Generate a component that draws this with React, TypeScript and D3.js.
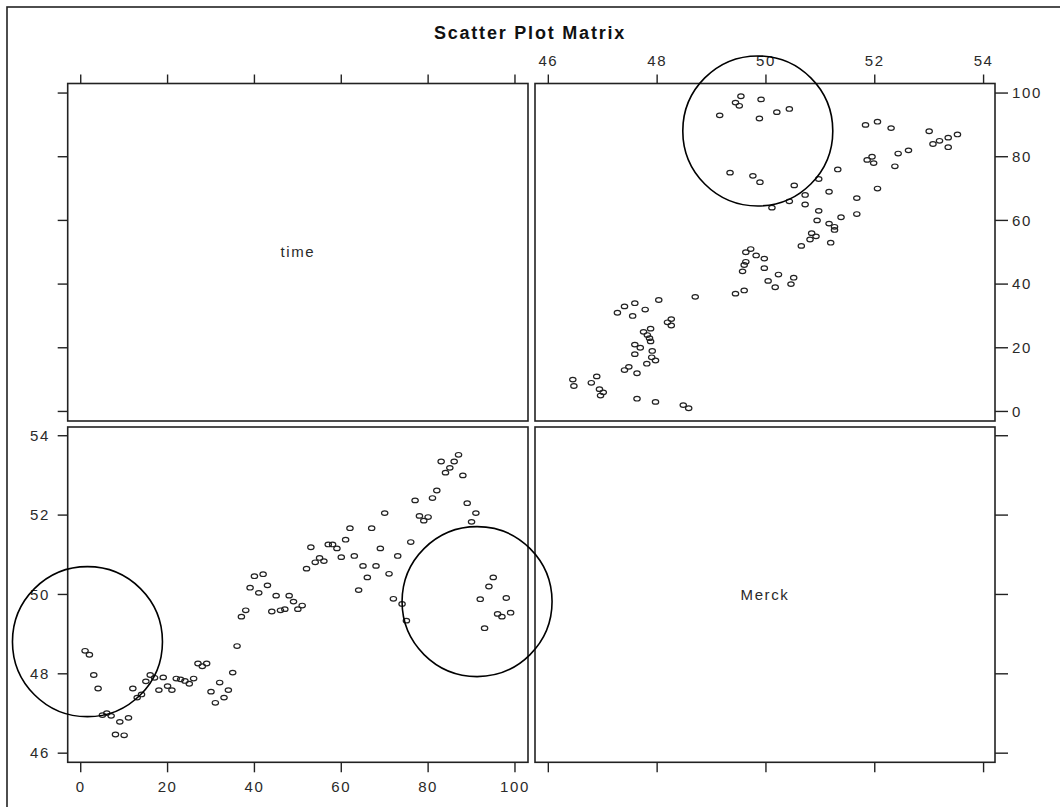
import React from 'react';
import * as d3 from 'd3';

const TITLE = 'Scatter Plot Matrix';
const VAR_NAMES = ['time', 'Merck'];

const TIME = [
  1, 2, 3, 4, 5, 6, 7, 8, 9, 10, 11, 12, 13, 14, 15, 16, 17, 18, 19, 20,
  21, 22, 23, 24, 25, 26, 27, 28, 29, 30, 31, 32, 33, 34, 35, 36, 37, 38, 39, 40,
  41, 42, 43, 44, 45, 46, 47, 48, 49, 50, 51, 52, 53, 54, 55, 56, 57, 58, 59, 60,
  61, 62, 63, 64, 65, 66, 67, 68, 69, 70, 71, 72, 73, 74, 75, 76, 77, 78, 79, 80,
  81, 82, 83, 84, 85, 86, 87, 88, 89, 90, 91, 92, 93, 94, 95, 96, 97, 98, 99,
];

const MERCK = [
  48.58, 48.48, 47.97, 47.63, 46.96, 47.01, 46.94, 46.47, 46.79, 46.45,
  46.89, 47.63, 47.40, 47.48, 47.81, 47.97, 47.90, 47.59, 47.91, 47.69,
  47.59, 47.88, 47.86, 47.82, 47.75, 47.88, 48.26, 48.19, 48.26, 47.55,
  47.27, 47.78, 47.40, 47.59, 48.03, 48.70, 49.44, 49.60, 50.17, 50.46,
  50.04, 50.51, 50.23, 49.57, 49.97, 49.60, 49.63, 49.97, 49.82, 49.63,
  49.72, 50.65, 51.19, 50.81, 50.92, 50.84, 51.26, 51.26, 51.16, 50.94,
  51.38, 51.67, 50.97, 50.11, 50.72, 50.43, 51.67, 50.72, 51.16, 52.05,
  50.52, 49.89, 50.97, 49.76, 49.34, 51.32, 52.37, 51.98, 51.86, 51.95,
  52.43, 52.62, 53.35, 53.07, 53.19, 53.35, 53.52, 53.00, 52.30, 51.83,
  52.05, 49.88, 49.15, 50.20, 50.43, 49.51, 49.44, 49.91, 49.54,
];

const TIME_TICKS = [0, 20, 40, 60, 80, 100];
const MERCK_TICKS = [46, 48, 50, 52, 54];

// highlight circles: [panel, time value, merck value]
const HIGHLIGHTS = [
  { panel: 'tr', time: 88.1, merck: 49.85 },
  { panel: 'bl', time: 1.55, merck: 48.81 },
  { panel: 'bl', time: 91.27, merck: 49.82 },
];

const W = 1060;
const H = 807;
const COL_L: [number, number] = [67.7, 528];
const COL_R: [number, number] = [535, 995];
const ROW_T: [number, number] = [83.5, 421];
const ROW_B: [number, number] = [427, 762.3];

const FONT = '"Liberation Sans", Arial, Helvetica, sans-serif';
const INK = '#222';

export default function App() {
  const timeX = d3.scaleLinear().domain([-3, 103]).range(COL_L);
  const timeY = d3.scaleLinear().domain([-3, 103]).range([ROW_T[1], ROW_T[0]]);
  const merckX = d3.scaleLinear().domain([45.755, 54.21]).range(COL_R);
  const merckY = d3.scaleLinear().domain([45.77, 54.22]).range([ROW_B[1], ROW_B[0]]);

  const pts = TIME.map((t, i) => ({ t, m: MERCK[i] }));

  const panel = (x: [number, number], y: [number, number], key: string) => (
    <rect key={key} x={x[0]} y={y[0]} width={x[1] - x[0]} height={y[1] - y[0]}
      fill="none" stroke={INK} strokeWidth={1.6} />
  );

  const tickText = {
    fontFamily: FONT,
    fontSize: 15,
    fill: '#2a2a2a',
    letterSpacing: 1.6,
  } as React.CSSProperties;

  const marker = (cx: number, cy: number, key: string) => (
    <ellipse key={key} cx={cx} cy={cy} rx={3.2} ry={2.3} fill="none" stroke={INK} strokeWidth={1.2} />
  );

  return (
    <svg width={W} height={H} style={{ position: 'absolute', left: 0, top: 0, background: '#fff' }}>
      <rect x={0} y={0} width={W} height={H} fill="#fff" />
      {/* outer frame */}
      <rect x={7} y={7} width={1200} height={1000} fill="none" stroke={INK} strokeWidth={1.6} />
      <text x={530} y={39} textAnchor="middle" fontFamily={FONT} fontWeight="bold" fontSize={18}
        letterSpacing={1.8} fill="#111">{TITLE}</text>

      {panel(COL_L, ROW_T, 'p1')}
      {panel(COL_R, ROW_T, 'p2')}
      {panel(COL_L, ROW_B, 'p3')}
      {panel(COL_R, ROW_B, 'p4')}

      {/* top ticks: time over left column (unlabeled), merck over right column (labeled) */}
      {TIME_TICKS.map((v) => (
        <line key={'tt' + v} x1={timeX(v)} x2={timeX(v)} y1={ROW_T[0]} y2={ROW_T[0] - 9} stroke={INK} strokeWidth={1.4} />
      ))}
      {MERCK_TICKS.map((v) => (
        <g key={'tm' + v}>
          <line x1={merckX(v)} x2={merckX(v)} y1={ROW_T[0]} y2={ROW_T[0] - 9} stroke={INK} strokeWidth={1.4} />
          <text x={merckX(v)} y={65.5} textAnchor="middle" style={tickText}>{v}</text>
        </g>
      ))}

      {/* bottom ticks: time under left column (labeled), merck under right (unlabeled) */}
      {TIME_TICKS.map((v) => (
        <g key={'bt' + v}>
          <line x1={timeX(v)} x2={timeX(v)} y1={ROW_B[1]} y2={ROW_B[1] + 10} stroke={INK} strokeWidth={1.4} />
          <text x={timeX(v)} y={791.5} textAnchor="middle" style={tickText}>{v}</text>
        </g>
      ))}
      {MERCK_TICKS.map((v) => (
        <line key={'bm' + v} x1={merckX(v)} x2={merckX(v)} y1={ROW_B[1]} y2={ROW_B[1] + 10} stroke={INK} strokeWidth={1.4} />
      ))}

      {/* left ticks: time for top row (unlabeled), merck for bottom row (labeled) */}
      {TIME_TICKS.map((v) => (
        <line key={'lt' + v} x1={COL_L[0]} x2={COL_L[0] - 10} y1={timeY(v)} y2={timeY(v)} stroke={INK} strokeWidth={1.4} />
      ))}
      {MERCK_TICKS.map((v) => (
        <g key={'lm' + v}>
          <line x1={COL_L[0]} x2={COL_L[0] - 10} y1={merckY(v)} y2={merckY(v)} stroke={INK} strokeWidth={1.4} />
          <text x={50} y={merckY(v) + 5.3} textAnchor="end" style={tickText}>{v}</text>
        </g>
      ))}

      {/* right ticks: time for top row (labeled), merck for bottom row (unlabeled) */}
      {TIME_TICKS.map((v) => (
        <g key={'rt' + v}>
          <line x1={COL_R[1]} x2={COL_R[1] + 13} y1={timeY(v)} y2={timeY(v)} stroke={INK} strokeWidth={1.4} />
          <text x={1012} y={timeY(v) + 5.3} textAnchor="start" style={tickText}>{v}</text>
        </g>
      ))}
      {MERCK_TICKS.map((v) => (
        <line key={'rm' + v} x1={COL_R[1]} x2={COL_R[1] + 13} y1={merckY(v)} y2={merckY(v)} stroke={INK} strokeWidth={1.4} />
      ))}

      {/* diagonal labels */}
      <text x={(COL_L[0] + COL_L[1]) / 2} y={(ROW_T[0] + ROW_T[1]) / 2 + 5} textAnchor="middle" style={tickText}>{VAR_NAMES[0]}</text>
      <text x={(COL_R[0] + COL_R[1]) / 2} y={(ROW_B[0] + ROW_B[1]) / 2 + 5} textAnchor="middle" style={tickText}>{VAR_NAMES[1]}</text>

      {/* scatter: bottom-left x=time, y=Merck */}
      {pts.map((p, i) => marker(timeX(p.t), merckY(p.m), 'bl' + i))}
      {/* scatter: top-right x=Merck, y=time */}
      {pts.map((p, i) => marker(merckX(p.m), timeY(p.t), 'tr' + i))}

      {/* highlight circles */}
      {HIGHLIGHTS.map((h, i) => {
        const cx = h.panel === 'tr' ? merckX(h.merck) : timeX(h.time);
        const cy = h.panel === 'tr' ? timeY(h.time) : merckY(h.merck);
        return <circle key={'h' + i} cx={cx} cy={cy} r={75} fill="none" stroke="#000" strokeWidth={1.6} />;
      })}
    </svg>
  );
}
